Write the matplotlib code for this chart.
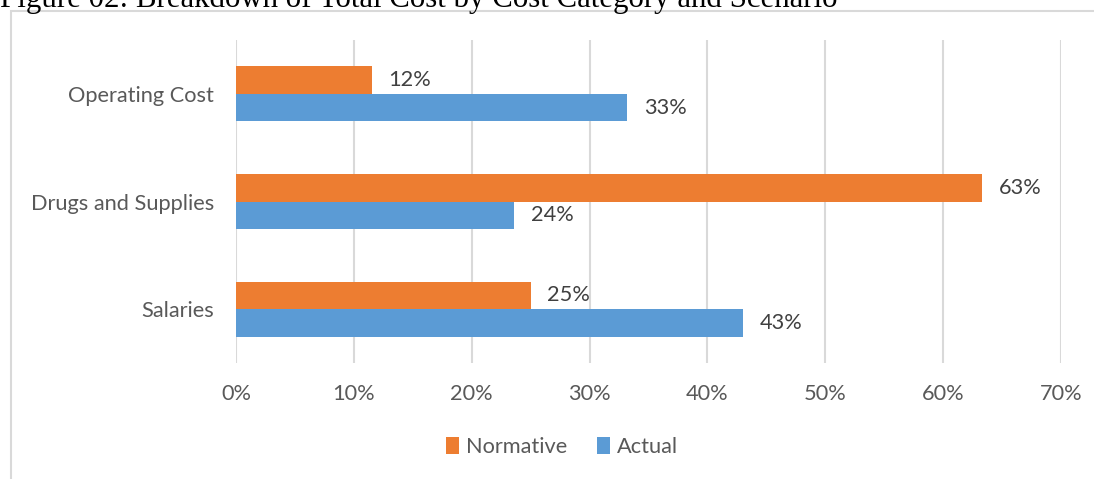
import matplotlib; matplotlib.use("Agg"); import matplotlib.pyplot as plt
import numpy as np
from matplotlib.patches import Rectangle
from matplotlib.ticker import FuncFormatter

categories = ["Operating Cost", "Drugs and Supplies", "Salaries"]
normative = [11.5, 63.3, 25.0]
actual = [33.2, 23.6, 43.0]
normative_labels = ["12%", "63%", "25%"]
actual_labels = ["33%", "24%", "43%"]
xticks = [0, 10, 20, 30, 40, 50, 60, 70]
title = "Figure 02: Breakdown of Total Cost by Cost Category and Scenario"

C_NORM = "#ED7D31"
C_ACT = "#5B9BD5"
TXT = "#595959"
FS = 15.7
W, H = 1094, 479

plt.rcParams["font.family"] = ["Lato", "DejaVu Sans"]
fig = plt.figure(figsize=(W / 100, H / 100), dpi=100)

# outer chart border (clipped by the page on right/bottom)
fig.patches.append(Rectangle((11 / W, -0.1), 1.2, 1 - 11 / H + 0.1, transform=fig.transFigure,
                             fill=False, edgecolor="#d9d9d9", lw=1.5))

# title, clipped at top like the source
t = fig.text(0, 1 - 7 / H, title, family="Liberation Serif", fontsize=20,
             va="baseline", ha="left", color="black")
fig.canvas.draw()
tw = t.get_window_extent().width
t.set_fontsize(20 * 837 / tw)

ax = fig.add_axes([236 / W, 1 - 363 / H, (1061 - 236) / W, (363 - 40) / H])
y = np.arange(len(categories))
h = 0.255
ax.barh(y - h / 2, normative, height=h, color=C_NORM, label="Normative", zorder=3)
ax.barh(y + h / 2, actual, height=h, color=C_ACT, label="Actual", zorder=3)

for yi, v, s in zip(y - h / 2, normative, normative_labels):
    ax.annotate(s, (v, yi), xytext=(12, 0), textcoords="offset points",
                va="center", ha="left", fontsize=FS, color="#404040")
for yi, v, s in zip(y + h / 2, actual, actual_labels):
    ax.annotate(s, (v, yi), xytext=(12, 0), textcoords="offset points",
                va="center", ha="left", fontsize=FS, color="#404040")

ax.set_xlim(0, 70)
ax.set_ylim(2.5, -0.5)
ax.set_xticks(xticks)
ax.xaxis.set_major_formatter(FuncFormatter(lambda v, p: f"{v:.0f}%"))
ax.set_yticks(y)
ax.set_yticklabels(categories)
ax.tick_params(axis="x", length=0, pad=15, labelsize=FS, labelcolor=TXT)
ax.tick_params(axis="y", length=0, pad=16, labelsize=FS, labelcolor=TXT)
ax.grid(axis="x", color="#d9d9d9", lw=1.5, zorder=0)
for sp in ax.spines.values():
    sp.set_visible(False)

leg = fig.legend(loc="center", bbox_to_anchor=(562 / W, 1 - 447 / H), ncol=2, frameon=False,
                 fontsize=FS, handlelength=0.6, handleheight=0.8, handletextpad=0.3,
                 columnspacing=1.4)
for txt in leg.get_texts():
    txt.set_color(TXT)

fig.savefig("out.png", dpi=100)
